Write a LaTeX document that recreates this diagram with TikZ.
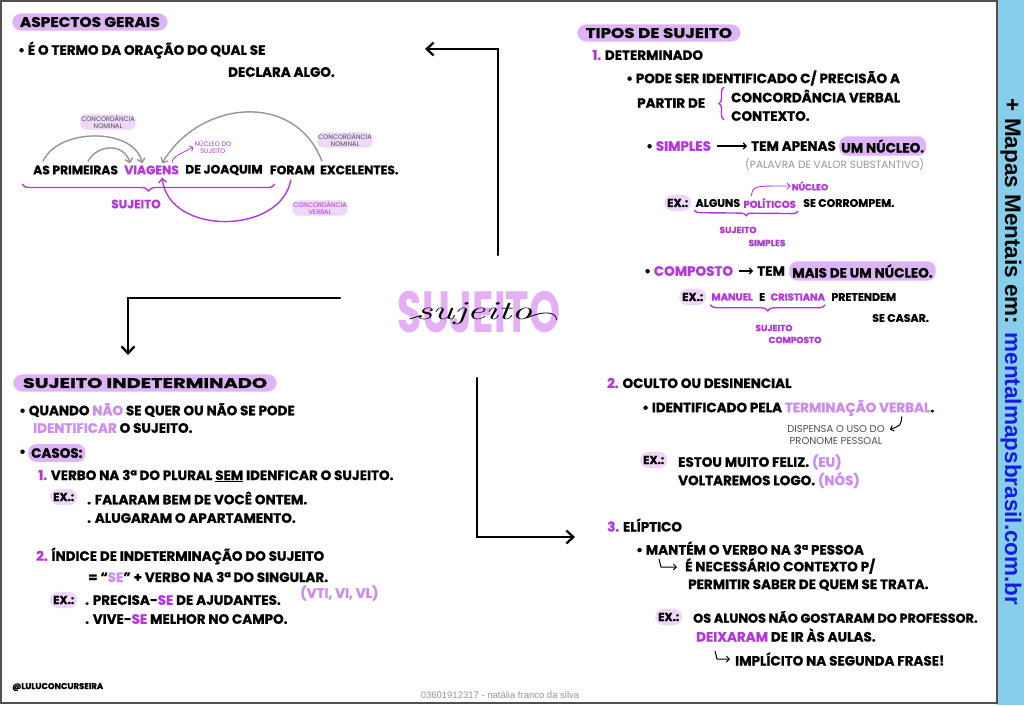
\documentclass[tikz,border=0pt]{standalone}
\usepackage{fontspec}
\newfontfamily\mao{Poppins}[FakeBold=0.9]
\newfontfamily\maofino{Poppins}
\newfontfamily\marca{Liberation Sans}
\usetikzlibrary{positioning,calc,arrows.meta,decorations.pathreplacing}

\definecolor{roxo}{RGB}{180,55,222}
\definecolor{roxoclaro}{RGB}{205,140,238}
\definecolor{realce}{RGB}{222,180,246}
\definecolor{mancha}{RGB}{238,215,249}
\definecolor{rosa}{RGB}{228,175,246}
\definecolor{cinza}{RGB}{150,150,150}
\definecolor{grafite}{RGB}{80,80,80}
\definecolor{faixa}{RGB}{135,206,235}
\definecolor{azul}{RGB}{25,25,225}

\tikzset{
  txt/.style={anchor=west, inner sep=0pt, font=\mao\bfseries\fontsize{13.5}{15}\selectfont},
  menor/.style={txt, font=\mao\bfseries\fontsize{11}{13}\selectfont},
  frase/.style={txt, font=\mao\bfseries\fontsize{12.3}{14}\selectfont},
  miudo/.style={inner sep=1pt, align=center, text=grafite, font=\maofino\fontsize{6.5}{7.5}\selectfont},
  rotulo/.style={inner sep=1pt, align=center, text=roxo, font=\mao\bfseries\fontsize{9}{10}\selectfont},
  titulo/.style={anchor=west, fill=realce, rounded corners=9pt, inner xsep=7pt, inner ysep=3.5pt,
    font=\mao\bfseries\fontsize{14}{15}\selectfont},
  exnota/.style={anchor=west, fill=mancha, rounded corners=8pt, inner xsep=3pt, inner ysep=4pt,
    font=\mao\bfseries\fontsize{11.5}{13}\selectfont},
  seta/.style={-{Straight Barb[length=7pt,width=13pt]}, line width=2.3pt, line cap=round},
  setinha/.style={-{Straight Barb[length=3pt,width=6pt]}, line width=1.2pt},
  chave/.style={decorate, decoration={brace, amplitude=6pt, mirror}, roxo, line width=1.4pt},
  arco/.style={-{Straight Barb[length=4pt,width=8pt]}, line width=1.4pt, cinza},
}

\begin{document}
\begin{tikzpicture}[x=1pt, y=-1pt]
\useasboundingbox (0,0) rectangle (1024,705);
% fundo, moldura e faixa
\fill[white] (0,0) rectangle (1024,705);
\fill[faixa] (997,0) rectangle (1024,705);
\draw[grafite, line width=1.5pt] (1,1) rectangle (997,703);
\node[rotate=-90, font=\marca\bfseries\fontsize{22.5}{23}\selectfont] (site) at (1011,352)
  {+ Mapas Mentais em: \textcolor{azul}{mentalmapsbrasil.com.br}};
\node[font=\marca\fontsize{9.5}{10}\selectfont, text=cinza] (rodape) at (500,695)
  {03601912317 - natália franco da silva};
\node[txt, font=\mao\bfseries\fontsize{8.5}{9}\selectfont] (autora) at (12,687) {@LULUCONCURSEIRA};

% centro
\node[font=\maofino\bfseries\fontsize{58}{58}\selectfont, text=rosa, xscale=0.68, inner sep=0pt] (centro) at (479,312) {SUJEITO};
\node[font=\itshape\fontsize{26}{26}\selectfont, xscale=1.6, inner sep=0pt] (cursivo) at (474,314) {sujeito};
\draw[line width=0.8pt] ($(cursivo.west)+(-6,5)$) -- ($(cursivo.west)+(4,2)$);
\draw[line width=0.8pt] ($(cursivo.east)+(-6,4)$) .. controls ($(cursivo.east)+(12,-4)$) and ($(cursivo.east)+(24,-2)$) .. ($(cursivo.east)+(24,6)$);

% setas principais
\coordinate (c-cima) at (498,255);
\coordinate (asp-ponta) at (425,49);
\draw[seta] (c-cima) |- (asp-ponta);
\coordinate (c-esq) at (340,298);
\coordinate (ind-ponta) at (128,355);
\draw[seta] (c-esq) -| (ind-ponta);
\coordinate (c-baixo) at (477,378);
\coordinate (eli-ponta) at (575,537);
\draw[seta] (c-baixo) |- (eli-ponta);

% aspectos gerais
\node[titulo, xscale=1.1] (asp) at (12,22) {ASPECTOS GERAIS};
\node[txt] (asp1) at (18,50) {• É O TERMO DA ORAÇÃO DO QUAL SE};
\node[txt] (asp2) at (228,72) {DECLARA ALGO.};
\node[frase] (s1) at (33,170) {AS PRIMEIRAS};
\node[frase, text=roxo, right=6pt of s1] (s2) {VIAGENS};
\node[frase, right=6pt of s2] (s3) {DE JOAQUIM};
\node[frase, right=7pt of s3] (s4) {FORAM};
\node[frase, right=5pt of s4] (s5) {EXCELENTES.};
\draw[chave, decoration={amplitude=7pt}] (22,184) -- (275,184);
\node[font=\mao\bfseries\fontsize{12}{13}\selectfont, text=roxo] (suj) at (136,204) {SUJEITO};
\node[miudo, fill=mancha, rounded corners=6pt] (cn1) at (108,122) {CONCORDÂNCIA\\NOMINAL};
\node[miudo, fill=mancha, rounded corners=6pt] (cn2) at (345,140) {CONCORDÂNCIA\\NOMINAL};
\node[miudo, fill=mancha, rounded corners=6pt, text=roxo] (cv) at (320,208) {CONCORDÂNCIA\\VERBAL};
\node[miudo, text=roxo] (nuc) at (213,147) {NÚCLEO DO\\SUJEITO};
\draw[arco] ($(s1.north west)+(10,-4)$) .. controls ($(s1.north west)+(25,-38)$) and ($(s2.north west)+(10,-38)$) .. ($(s2.north west)+(18,-2)$);
\draw[arco] ($(s1.north west)+(55,-4)$) .. controls ($(s1.north west)+(65,-22)$) and ($(s2.north west)+(0,-22)$) .. ($(s2.north west)+(6,-2)$);
\draw[arco] ($(s5.north west)+(2,-4)$) .. controls ($(s5.north west)+(-25,-75)$) and ($(s2.north east)+(20,-65)$) .. ($(s2.north east)+(-17,-2)$);
\draw[arco, roxo] ($(s4.south west)+(21,5)$) .. controls ($(s4.south west)+(12,60)$) and ($(s2.south east)+(-10,62)$) .. ($(s2.south east)+(-17,3)$);
\draw[setinha, roxo, line width=0.8pt] ($(s2.north east)+(-7,-3)$) .. controls ($(s2.north east)+(-6,-8)$) .. (nuc.west);

% tipos de sujeito
\node[titulo, xscale=1.2] (tipos) at (577,33) {TIPOS DE SUJEITO};
\node[txt] (det) at (592,55) {\textcolor{roxo}{1.} DETERMINADO};
\node[txt] (det1) at (626,78) {• PODE SER IDENTIFICADO C/ PRECISÃO A};
\node[txt] (det2) at (637,103) {PARTIR DE};
\node[txt] (det3) at (731,96) {CONCORDÂNCIA VERBAL};
\node[txt] (det4) at (731,116) {CONTEXTO.};
\draw[chave, decoration={mirror=false, amplitude=5pt}] (724,120) -- (724,87);
\node[txt] (simp) at (646,146) {• \textcolor{roxo}{SIMPLES}};
\node[txt] (simp1) at (751,146) {TEM APENAS};
\node[txt, fill=realce, rounded corners=8pt, inner xsep=2pt, inner ysep=3pt, right=3pt of simp1] (simp2) {UM NÚCLEO.};
\draw[setinha] ($(simp.east)+(6,0)$) -- ($(simp1.west)+(-4,0)$);
\node[txt, text=cinza, font=\maofino\fontsize{10.5}{12}\selectfont] (simp3) at (745,165) {(PALAVRA DE VALOR SUBSTANTIVO)};
\node[exnota] (ex1) at (664,203) {EX.:};
\node[menor, right=4pt of ex1] (alg) {ALGUNS};
\node[menor, text=roxo, font=\mao\bfseries\fontsize{10}{12}\selectfont, right=3pt of alg] (pol) {POLÍTICOS};
\node[menor, right=7pt of pol] (corr) {SE CORROMPEM.};
\node[rotulo] (nuc2) at (810,186) {NÚCLEO};
\draw[setinha, roxo, line width=0.9pt] ($(pol.north west)+(8,-2)$) .. controls ($(pol.north west)+(10,-12)$) .. (nuc2.west);
\draw[chave, decoration={amplitude=5pt}] ($(alg.south west)+(-1,3)$) -- ($(pol.south east)+(2,3)$);
\node[rotulo] (ss1) at (738,230) {SUJEITO};
\node[rotulo] (ss2) at (767,243) {SIMPLES};
\node[txt] (comp) at (644,271) {• \textcolor{roxo}{COMPOSTO}};
\node[txt] (comp1) at (757,271) {TEM};
\node[txt, fill=realce, rounded corners=8pt, inner xsep=3pt, inner ysep=3pt, right=4pt of comp1] (comp2) {MAIS DE UM NÚCLEO.};
\draw[setinha] ($(comp.east)+(6,0)$) -- ($(comp1.west)+(-4,0)$);
\node[exnota] (ex2) at (679,297) {EX.:};
\node[menor, text=roxo, font=\mao\bfseries\fontsize{10}{12}\selectfont, right=5pt of ex2] (man) {MANUEL};
\node[menor, right=6pt of man] (e) {E};
\node[menor, text=roxo, font=\mao\bfseries\fontsize{10}{12}\selectfont, right=5pt of e] (cri) {CRISTIANA};
\node[menor, right=6pt of cri] (pret) {PRETENDEM};
\node[menor] (casar) at (872,318) {SE CASAR.};
\draw[chave, decoration={amplitude=6pt}] ($(man.south west)+(-1,4)$) -- ($(cri.south east)+(0,4)$);
\node[rotulo] (sc1) at (774,328) {SUJEITO};
\node[rotulo] (sc2) at (795,340) {COMPOSTO};

% oculto
\node[txt] (ocu) at (607,383) {\textcolor{roxo}{2.} OCULTO OU DESINENCIAL};
\node[txt] (ocu1) at (642,408) {• IDENTIFICADO PELA \textcolor{roxoclaro}{TERMINAÇÃO VERBAL}.};
\node[miudo, font=\maofino\fontsize{10}{11.5}\selectfont, align=center] (disp) at (836,435) {DISPENSA O USO DO\\PRONOME PESSOAL};
\draw[setinha, line width=1pt] ($(disp.north east)+(16,-8)$) .. controls ($(disp.north east)+(15,1)$) .. ($(disp.north east)+(4,5)$);
\node[exnota] (ex3) at (640,460) {EX.:};
\node[txt] (ocu2) at (678,462) {ESTOU MUITO FELIZ. \textcolor{roxoclaro}{(EU)}};
\node[txt] (ocu3) at (678,480) {VOLTAREMOS LOGO. \textcolor{roxoclaro}{(NÓS)}};

% eliptico
\node[txt] (eli) at (607,525) {\textcolor{roxo}{3.} ELÍPTICO};
\node[txt] (eli1) at (636,548) {• MANTÉM O VERBO NA 3ª PESSOA};
\node[txt] (eli2) at (685,566) {É NECESSÁRIO CONTEXTO P/};
\node[txt] (eli3) at (688,585) {PERMITIR SABER DE QUEM SE TRATA.};
\draw[setinha, line width=1pt] ($(eli2.west)+(-26,-7)$) -- ($(eli2.west)+(-24,1)$) -- ($(eli2.west)+(-8,1)$);
\node[exnota] (ex4) at (655,617) {EX.:};
\node[txt, font=\mao\bfseries\fontsize{12.8}{14}\selectfont] (eli4) at (693,617) {OS ALUNOS NÃO GOSTARAM DO PROFESSOR.};
\node[txt] (eli5) at (696,635) {\textcolor{roxo}{DEIXARAM} DE IR ÀS AULAS.};
\node[txt] (eli6) at (735,659) {IMPLÍCITO NA SEGUNDA FRASE!};
\draw[setinha, line width=1pt] ($(eli6.west)+(-20,-8)$) -- ($(eli6.west)+(-18,0)$) -- ($(eli6.west)+(-5,0)$);

% indeterminado
\node[titulo, xscale=1.38] (ind) at (13,383) {SUJEITO INDETERMINADO};
\node[txt] (ind1) at (19,410) {• QUANDO \textcolor{roxoclaro}{NÃO} SE QUER OU NÃO SE PODE};
\node[txt] (ind2) at (33,428) {\textcolor{roxoclaro}{IDENTIFICAR} O SUJEITO.};
\node[txt] (ind3) at (19,453) {•};
\node[txt, fill=realce, rounded corners=8pt, inner xsep=3pt, inner ysep=4pt] (casos) at (28,453) {CASOS:};
\node[txt] (c1) at (38,476) {\textcolor{roxo}{1.} VERBO NA 3ª DO PLURAL \underline{SEM} IDENFICAR O SUJEITO.};
\node[exnota] (ex5) at (50,497) {EX.:};
\node[txt] (c1a) at (87,498) {. FALARAM BEM DE VOCÊ ONTEM.};
\node[txt] (c1b) at (87,518) {. ALUGARAM O APARTAMENTO.};
\node[txt] (c2) at (36,556) {\textcolor{roxo}{2.} ÍNDICE DE INDETERMINAÇÃO DO SUJEITO};
\node[txt] (c2a) at (88,577) {= “\textcolor{roxoclaro}{SE}” + VERBO NA 3ª DO SINGULAR.};
\node[txt, text=roxoclaro] (c2b) at (300,593) {(VTI, VI, VL)};
\node[exnota] (ex6) at (50,600) {EX.:};
\node[txt] (c2c) at (85,600) {. PRECISA-\textcolor{roxo}{SE} DE AJUDANTES.};
\node[txt] (c2d) at (85,619) {. VIVE-\textcolor{roxo}{SE} MELHOR NO CAMPO.};
\end{tikzpicture}
\end{document}
